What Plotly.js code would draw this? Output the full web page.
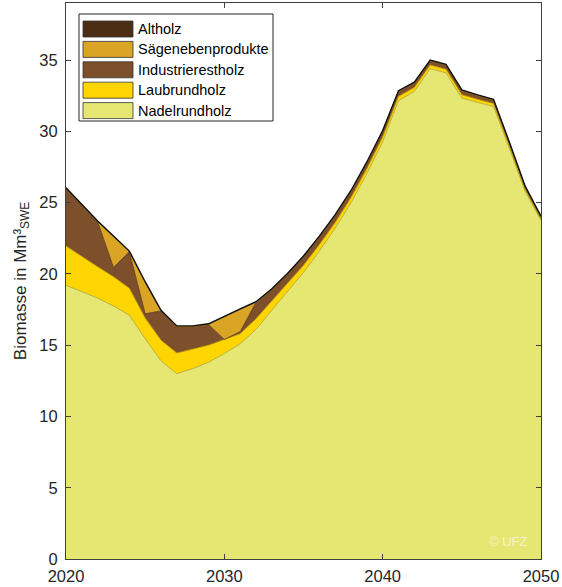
<!DOCTYPE html>
<html>
<head>
<meta charset="utf-8">
<script src="https://cdn.plot.ly/plotly-3.0.1.min.js"></script>
<style>html,body{margin:0;padding:0;background:#fff;}#chart{width:562px;height:587px;}</style>
</head>
<body>
<div id="chart"></div>
<script>
// Years
const years = [2020,2021,2022,2023,2024,2025,2026,2027,2028,2029,2030,2031,2032,2033,2034,2035,2036,2037,2038,2039,2040,2041,2042,2043,2044,2045,2046,2047,2048,2049,2050];

// Series values (Mm³ SWE per source, stacked bottom to top)
const nadelrundholz = [19.2,18.75,18.3,17.75,17.1,15.45,13.9,13.0,13.35,13.8,14.4,15.1,16.1,17.45,18.8,20.1,21.6,23.2,24.98,27.03,29.27,32.15,32.8,34.4,34.1,32.33,32.02,31.75,28.8,25.78,23.75];
const laubrundholz = [2.75,2.45,2.2,2.05,1.9,1.45,1.45,1.45,1.35,1.2,1.0,0.7,0.75,0.65,0.55,0.5,0.45,0.4,0.37,0.35,0.33,0.3,0.28,0.25,0.25,0.24,0.22,0.2,0.18,0.14,0.1];
const industrierestholz = [4.05,3.6,3.16,0.65,2.55,0.3,2.05,1.85,1.6,1.45,0.0,0.15,1.15,0.8,0.65,0.6,0.55,0.5,0.45,0.42,0.4,0.35,0.32,0.3,0.3,0.28,0.26,0.25,0.22,0.18,0.15];
const saegenebenprodukte = [0,0,0,2.15,0,2.2,0,0,0,0,1.6,1.55,0,0,0,0,0,0,0,0,0,0,0,0,0,0,0,0,0,0,0];
const altholz = [0.05,0.05,0.05,0.05,0.05,0.05,0.05,0.05,0.05,0.05,0.05,0.05,0.05,0.05,0.05,0.05,0.05,0.05,0.05,0.05,0.05,0.05,0.05,0.05,0.05,0.05,0.05,0.05,0.05,0.05,0.05];

const seriesNames = ["Nadelrundholz","Laubrundholz","Industrierestholz","Sägenebenprodukte","Altholz"];
const seriesValues = [nadelrundholz, laubrundholz, industrierestholz, saegenebenprodukte, altholz];
const fillColors = ["#e6e673","#ffd500","#7d4f2a","#daa424","#4b2e14"];
const lineColors = ["#a9a43c","#b89400","#55331a","#a87a14","#111111"];
const lineWidths = [0.8,0.8,0.8,0.8,1.4];

const xTicks = [2020,2030,2040,2050];
const yTicks = [0,5,10,15,20,25,30,35];

const traces = seriesNames.map((name, i) => ({
  type: "scatter",
  mode: "lines",
  name: name,
  x: years,
  y: seriesValues[i],
  stackgroup: "one",
  fillcolor: fillColors[i],
  line: {color: lineColors[i], width: lineWidths[i]},
  hoverinfo: "skip",
  showlegend: false
}));

const font = "Liberation Sans, Arial, Helvetica, sans-serif";

// Plot area in pixels (for placing the legend box in paper units)
const W = 562, H = 587, mL = 66, mR = 21, mT = 3, mB = 28;
const pw = W - mL - mR, ph = H - mT - mB;
const px = v => (v - mL) / pw;
const py = v => (H - mB - v) / ph;

const shapes = [{
  type: "rect", xref: "paper", yref: "paper",
  x0: px(79), x1: px(273), y0: py(121), y1: py(14),
  fillcolor: "#ffffff", line: {color: "#262626", width: 1}
}];
const annotations = [];
// legend entries top to bottom (reverse stacking order)
const legendOrder = [4,3,2,1,0];
legendOrder.forEach((si, row) => {
  const cy = 29 + row * 20.4;
  shapes.push({
    type: "rect", xref: "paper", yref: "paper",
    x0: px(83), x1: px(133), y0: py(cy + 8), y1: py(cy - 8),
    fillcolor: fillColors[si], line: {color: "#333333", width: 0.8}
  });
  annotations.push({
    text: seriesNames[si], xref: "paper", yref: "paper",
    x: px(136), y: py(cy), xanchor: "left", yanchor: "middle",
    showarrow: false, font: {family: font, size: 14.5, color: "#000"}
  });
});
annotations.push({
  text: "© UFZ",
  xref: "paper", yref: "paper",
  x: 0.977, y: 0.032,
  xanchor: "right", yanchor: "middle",
  showarrow: false,
  font: {family: font, size: 13, color: "rgba(255,255,255,0.6)"}
});

const layout = {
  width: W,
  height: H,
  margin: {l: mL, r: mR, t: mT, b: mB, pad: 0},
  paper_bgcolor: "#ffffff",
  plot_bgcolor: "#ffffff",
  showlegend: false,
  xaxis: {
    range: [2020, 2050],
    tickvals: xTicks,
    ticktext: xTicks.map(String),
    ticks: "inside",
    ticklen: 5,
    tickcolor: "#404040",
    showline: true,
    linecolor: "#404040",
    linewidth: 1,
    mirror: "ticks",
    showgrid: false,
    zeroline: false,
    ticklabelstandoff: 2,
    tickfont: {family: font, size: 16.5, color: "#262626"}
  },
  yaxis: {
    range: [0, 39],
    tickvals: yTicks,
    ticktext: yTicks.map(String),
    ticks: "inside",
    ticklen: 5,
    tickcolor: "#404040",
    showline: true,
    linecolor: "#404040",
    linewidth: 1,
    mirror: "ticks",
    showgrid: false,
    zeroline: false,
    ticklabelstandoff: 4,
    tickfont: {family: font, size: 16.5, color: "#262626"},
    title: {text: "Biomasse in Mm³<sub>SWE</sub>", font: {family: font, size: 17, color: "#262626"}, standoff: 8}
  },
  shapes: shapes,
  annotations: annotations
};

Plotly.newPlot("chart", traces, layout, {displayModeBar: false, staticPlot: true});
</script>
</body>
</html>
